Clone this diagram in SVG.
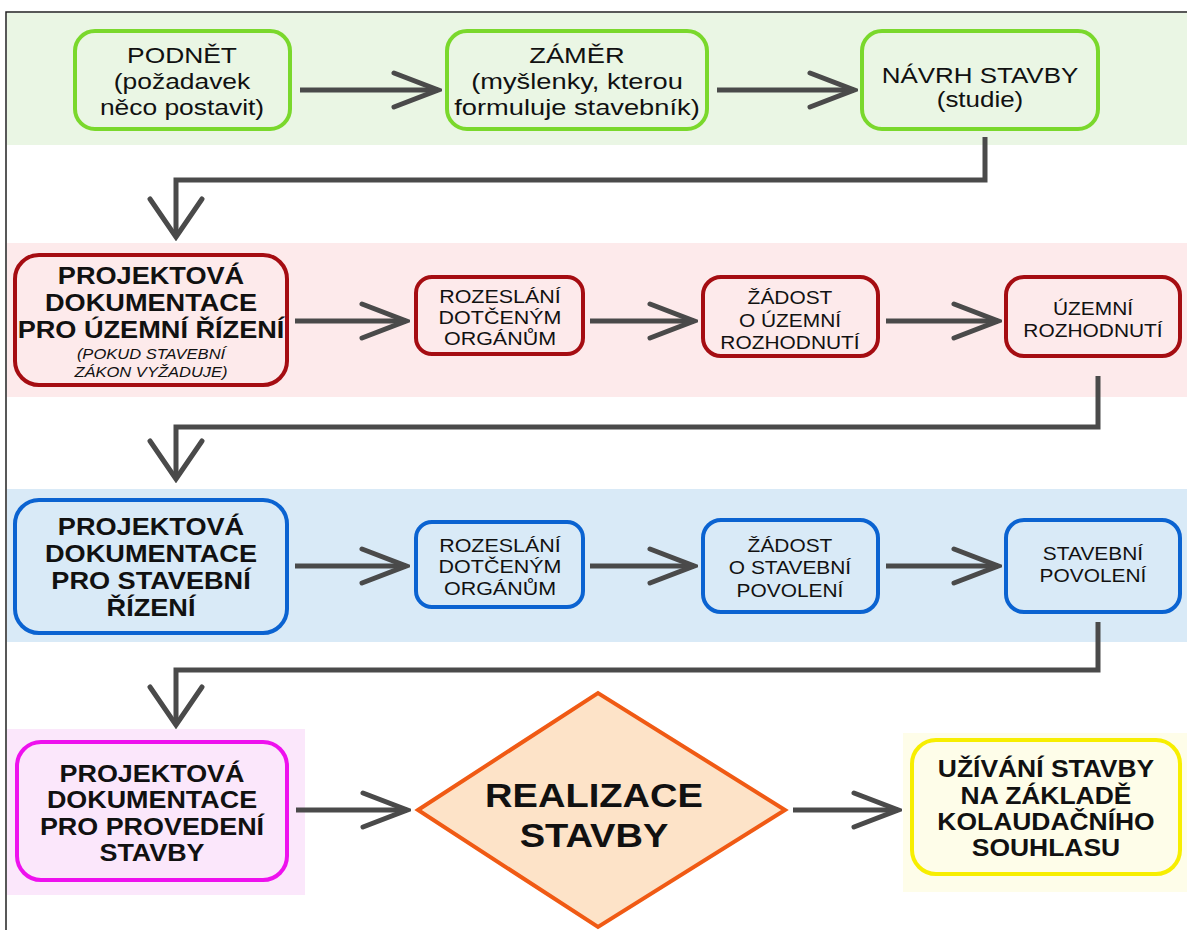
<svg xmlns="http://www.w3.org/2000/svg" width="1187" height="930" viewBox="0 0 1187 930">
<style>
text{font-family:"Liberation Sans",Arial,sans-serif;fill:#111;text-anchor:middle}
.r1{font-size:22px}
.b{font-weight:bold;font-size:23px}
.s{font-size:19px}
.i{font-style:italic;font-size:14px}
.big{font-weight:bold;font-size:34px}
.g{fill:#eaf6e4;stroke:#7ad82c;stroke-width:4}
.red{fill:#fdeaeb;stroke:#a50d12;stroke-width:4}
.bl{fill:#d9eaf7;stroke:#0b63d1;stroke-width:4}
.mg{fill:#fbe7fb;stroke:#ee11ee;stroke-width:4}
.ye{fill:#fefde9;stroke:#f7ee00;stroke-width:4}
.c{fill:none;stroke:#4a4a4a;stroke-width:5;stroke-linejoin:miter}
</style>
<defs>
<marker id="ah" viewBox="-50 -22 54 44" markerWidth="54" markerHeight="44" refX="0" refY="0" orient="auto" markerUnits="userSpaceOnUse">
<path d="M-44,-17 L0,0 L-44,17" fill="none" stroke="#4a4a4a" stroke-width="5" stroke-linecap="round"/>
</marker>
<marker id="ahv" viewBox="-44 -30 48 60" markerWidth="48" markerHeight="60" refX="0" refY="0" orient="auto" markerUnits="userSpaceOnUse">
<path d="M-38,-26 L0,0 L-38,26" fill="none" stroke="#4a4a4a" stroke-width="5" stroke-linecap="round"/>
</marker>
</defs>
<rect width="1187" height="930" fill="#fff"/>
<path d="M6,930 V12 H1187" fill="none" stroke="#222" stroke-width="1.5"/>
<g id="bands">
<rect x="7" y="13" width="1180" height="132" fill="#eaf6e4"/>
<rect x="7" y="243" width="1180" height="154" fill="#fdeaeb"/>
<rect x="7" y="489" width="1180" height="153" fill="#d9eaf7"/>
<rect x="7" y="729" width="298" height="166" fill="#fbe7fb"/>
<rect x="903" y="733" width="284" height="159" fill="#fefde9"/>
</g>
<g id="connectors">
<path class="c" d="M300,90 H438" marker-end="url(#ah)"/>
<path class="c" d="M717,90 H854" marker-end="url(#ah)"/>
<path class="c" d="M985,137 V180 H176 V237" marker-end="url(#ahv)"/>
<path class="c" d="M295,321 H406" marker-end="url(#ah)"/>
<path class="c" d="M590,321 H694" marker-end="url(#ah)"/>
<path class="c" d="M886,321 H998" marker-end="url(#ah)"/>
<path class="c" d="M1098,376 V427 H176 V479" marker-end="url(#ahv)"/>
<path class="c" d="M295,566 H406" marker-end="url(#ah)"/>
<path class="c" d="M590,566 H694" marker-end="url(#ah)"/>
<path class="c" d="M886,566 H998" marker-end="url(#ah)"/>
<path class="c" d="M1098,622 V670 H176 V725" marker-end="url(#ahv)"/>
<path class="c" d="M296,810 H407" marker-end="url(#ah)"/>
<path class="c" d="M793,810 H898" marker-end="url(#ah)"/>
</g>
<g id="podnet">
<rect class="g" x="75" y="31" width="215" height="98" rx="20"/>
<g transform="translate(182,0) scale(1.2,1)">
<text class="r1" y="63">PODNĚT</text>
<text class="r1" y="89">(požadavek</text>
<text class="r1" y="115">něco postavit)</text>
</g>
</g>
<g id="zamer">
<rect class="g" x="447" y="31" width="260" height="98" rx="20"/>
<g transform="translate(577,0) scale(1.24,1)">
<text class="r1" y="63">ZÁMĚR</text>
<text class="r1" y="89">(myšlenky, kterou</text>
<text class="r1" y="115">formuluje stavebník)</text>
</g>
</g>
<g id="navrh">
<rect class="g" x="862" y="31" width="236" height="98" rx="20"/>
<g transform="translate(980,0) scale(1.18,1)">
<text class="r1" y="83">NÁVRH STAVBY</text>
<text class="r1" y="107">(studie)</text>
</g>
</g>
<g id="pd-uzemni">
<rect class="red" x="15" y="255" width="272" height="130" rx="24"/>
<g transform="translate(151,0) scale(1.18,1)">
<text class="b" x="0" y="284">PROJEKTOVÁ</text>
<text class="b" x="0" y="311">DOKUMENTACE</text>
<text class="b" x="0" y="338">PRO ÚZEMNÍ ŘÍZENÍ</text>
<text class="i" x="0" y="359">(POKUD STAVEBNÍ</text>
<text class="i" x="0" y="377">ZÁKON VYŽADUJE)</text>
</g>
</g>
<g id="rozeslani-1">
<rect class="red" x="416" y="277" width="167" height="77" rx="16"/>
<g transform="translate(500,0) scale(1.13,1)">
<text class="s" y="303">ROZESLÁNÍ</text>
<text class="s" y="324">DOTČENÝM</text>
<text class="s" y="345">ORGÁNŮM</text>
</g>
</g>
<g id="zadost-uzemni">
<rect class="red" x="703" y="277" width="175" height="79" rx="18"/>
<g transform="translate(790,0) scale(1.1,1)">
<text class="s" y="304">ŽÁDOST</text>
<text class="s" y="327">O ÚZEMNÍ</text>
<text class="s" y="349">ROZHODNUTÍ</text>
</g>
</g>
<g id="uzemni-rozhodnuti">
<rect class="red" x="1006" y="277" width="174" height="79" rx="18"/>
<g transform="translate(1093,0) scale(1.1,1)">
<text class="s" y="315">ÚZEMNÍ</text>
<text class="s" y="337">ROZHODNUTÍ</text>
</g>
</g>
<g id="pd-stavebni">
<rect class="bl" x="15" y="500" width="272" height="133" rx="24"/>
<g transform="translate(151,0) scale(1.18,1)">
<text class="b" y="535">PROJEKTOVÁ</text>
<text class="b" y="562">DOKUMENTACE</text>
<text class="b" y="589">PRO STAVEBNÍ</text>
<text class="b" y="616">ŘÍZENÍ</text>
</g>
</g>
<g id="rozeslani-2">
<rect class="bl" x="416" y="522" width="167" height="85" rx="16"/>
<g transform="translate(500,0) scale(1.13,1)">
<text class="s" y="552">ROZESLÁNÍ</text>
<text class="s" y="573">DOTČENÝM</text>
<text class="s" y="595">ORGÁNŮM</text>
</g>
</g>
<g id="zadost-stavebni">
<rect class="bl" x="703" y="520" width="175" height="92" rx="18"/>
<g transform="translate(790,0) scale(1.1,1)">
<text class="s" y="552">ŽÁDOST</text>
<text class="s" y="574">O STAVEBNÍ</text>
<text class="s" y="597">POVOLENÍ</text>
</g>
</g>
<g id="stavebni-povoleni">
<rect class="bl" x="1006" y="520" width="174" height="92" rx="18"/>
<g transform="translate(1093,0) scale(1.1,1)">
<text class="s" y="560">STAVEBNÍ</text>
<text class="s" y="582">POVOLENÍ</text>
</g>
</g>
<g id="pd-provedeni">
<rect class="mg" x="17" y="742" width="270" height="138" rx="24"/>
<g transform="translate(152,0) scale(1.17,1)">
<text class="b" y="782">PROJEKTOVÁ</text>
<text class="b" y="808">DOKUMENTACE</text>
<text class="b" y="835">PRO PROVEDENÍ</text>
<text class="b" y="861">STAVBY</text>
</g>
</g>
<g id="realizace">
<polygon points="418,810 598,693 785,810 598,927" fill="#fde3c8" stroke="#f05a14" stroke-width="4"/>
<g transform="translate(594,0) scale(1.12,1)">
<text class="big" y="807">REALIZACE</text>
<text class="big" y="847">STAVBY</text>
</g>
</g>
<g id="uzivani">
<rect class="ye" x="912" y="740" width="268" height="134" rx="24"/>
<g transform="translate(1046,0) scale(1.15,1)">
<text class="b" y="777">UŽÍVÁNÍ STAVBY</text>
<text class="b" y="804">NA ZÁKLADĚ</text>
<text class="b" y="830">KOLAUDAČNÍHO</text>
<text class="b" y="856">SOUHLASU</text>
</g>
</g>
</svg>
